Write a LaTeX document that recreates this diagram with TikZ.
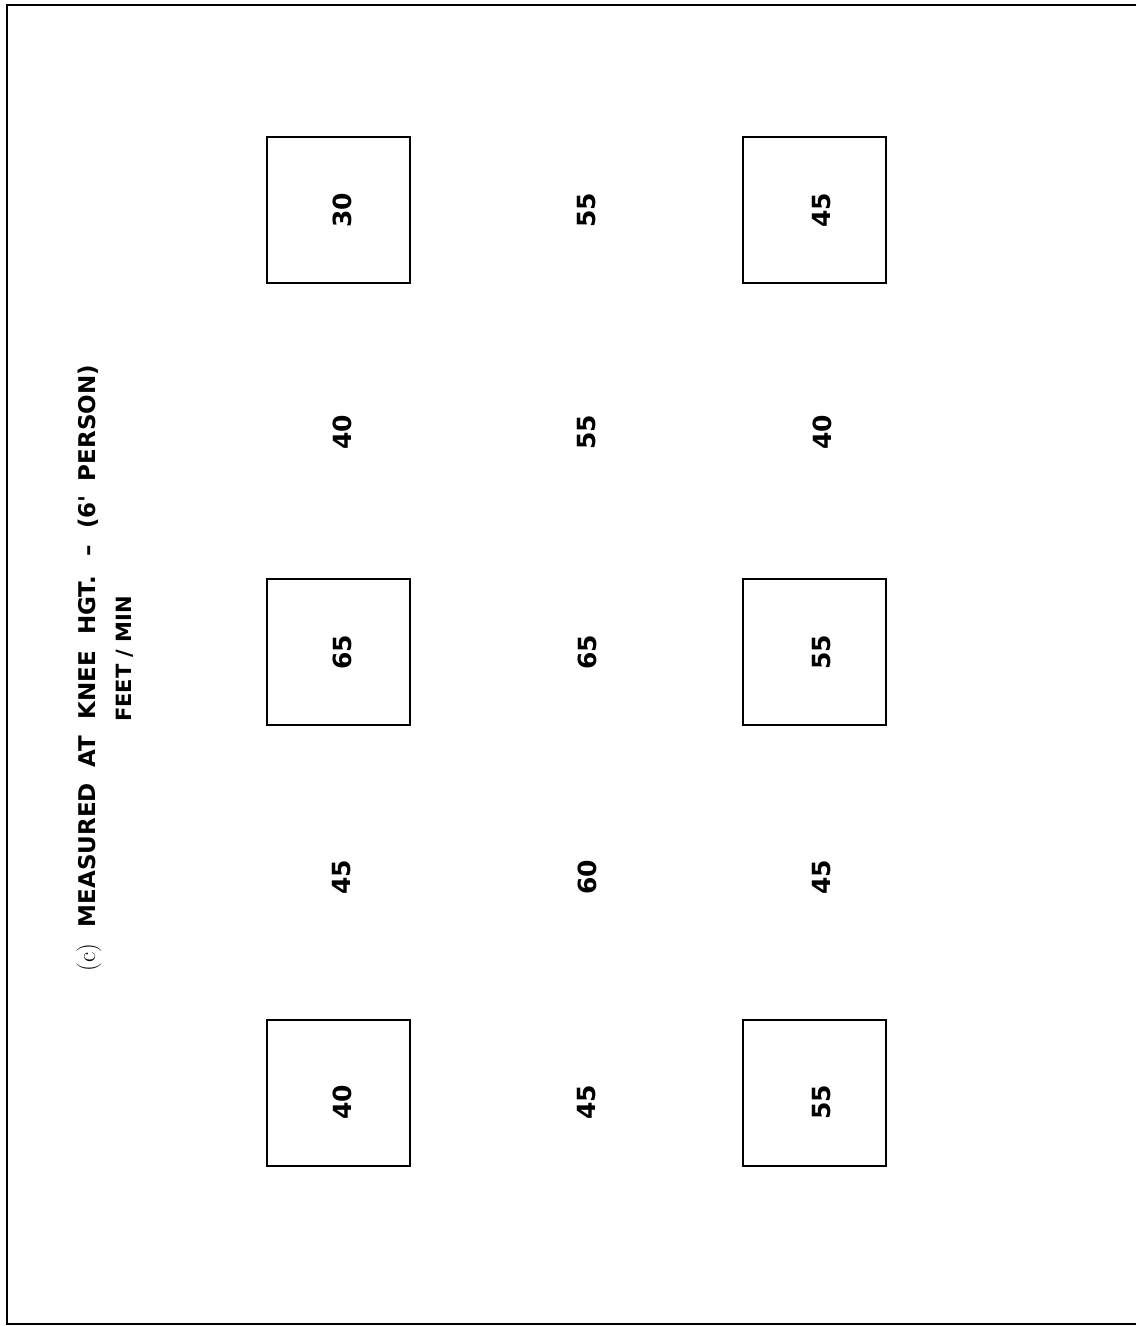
\documentclass[tikz,border=0pt]{standalone}
\usepackage{fontspec}
\newfontfamily\lettering{DejaVu Sans}
\begin{document}
\begin{tikzpicture}[x=1pt,y=-1pt,
  frame/.style={draw=black,line width=2.2pt},
  cell/.style={draw=black,line width=2pt,minimum width=143pt,minimum height=146pt,inner sep=0pt},
  val/.style={rotate=90,font=\lettering\bfseries\fontsize{25}{27}\selectfont,inner sep=0pt},
  ttl/.style={rotate=90,font=\lettering\bfseries\fontsize{23}{26}\selectfont,inner sep=0pt}]
\useasboundingbox (0,0) rectangle (1136,1326);
\fill[white] (0,0) rectangle (1136,1326);
\draw[frame] (1136,5) -- (7,5) -- (7,1324) -- (1136,1324);
% boxes
\node[cell] (b11) at (338.5,209.5) {};
\node[cell] (b13) at (814,209.5) {};
\node[cell] (b31) at (338.5,651.5) {};
\node[cell] (b33) at (814,651.5) {};
\node[cell] (b51) at (338.5,1093) {};
\node[cell] (b53) at (814,1093) {};
% values
\node[val] (v11) at (342,210) {30};
\node[val] (v12) at (587,210) {55};
\node[val] (v13) at (822,210) {45};
\node[val] (v21) at (342,432) {40};
\node[val] (v22) at (587,432) {55};
\node[val] (v23) at (822,432) {40};
\node[val] (v31) at (342,652) {65};
\node[val] (v32) at (587,652) {65};
\node[val] (v33) at (822,652) {55};
\node[val] (v41) at (342,877) {45};
\node[val] (v42) at (587,877) {60};
\node[val] (v43) at (822,877) {45};
\node[val] (v51) at (342,1102) {40};
\node[val] (v52) at (587,1102) {45};
\node[val] (v53) at (822,1102) {55};
% title
\node[ttl] (t1) at (89,668) {{\rmfamily\mdseries\fontsize{25}{27}\selectfont(c)}\hspace{8pt} MEASURED\hspace{8pt} AT\hspace{8pt} KNEE\hspace{8pt} HGT.\hspace{12pt} –\hspace{8pt} (6\char"27\hspace{6pt} PERSON)};
\node[ttl,font=\lettering\bfseries\fontsize{21}{24}\selectfont] (t2) at (125,659) {FEET / MIN};
\end{tikzpicture}
\end{document}
